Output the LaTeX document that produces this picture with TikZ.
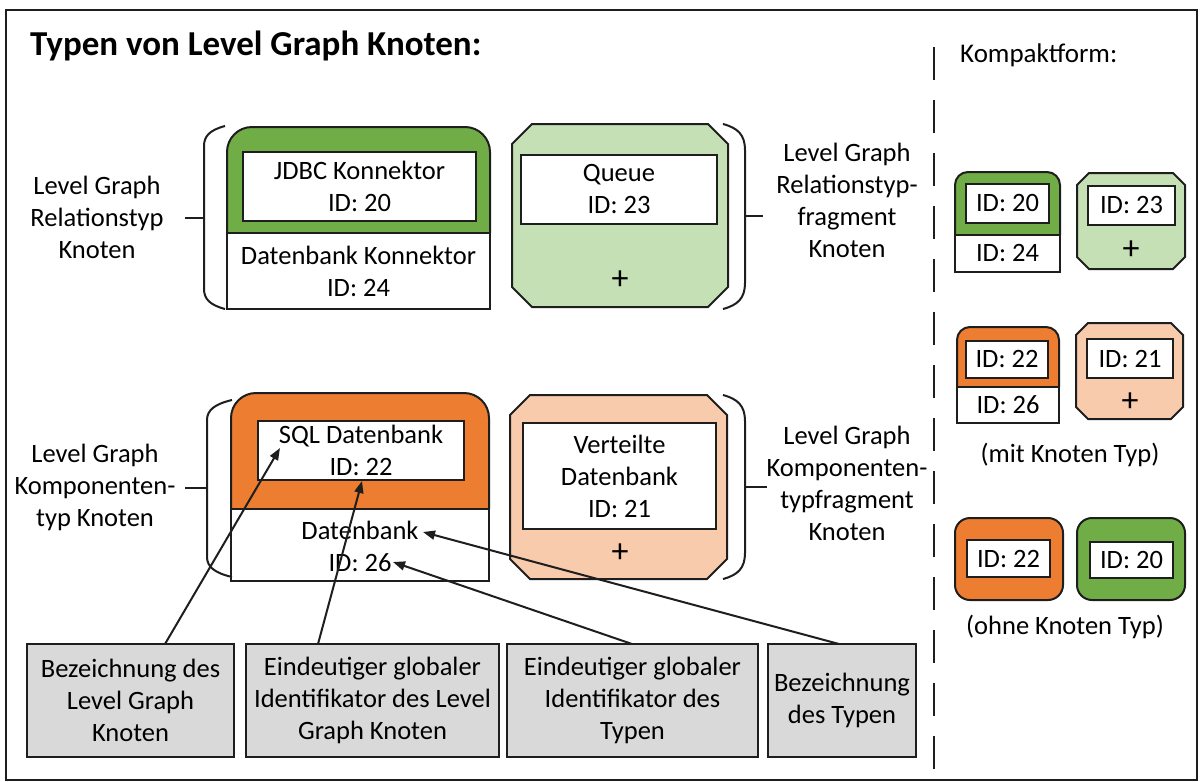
\documentclass[tikz,border=0pt]{standalone}
\usepackage{fontspec}
\setmainfont{Carlito}
\usetikzlibrary{arrows.meta}

\definecolor{gDark}{HTML}{70AD47}
\definecolor{gLight}{HTML}{C5E0B4}
\definecolor{oDark}{HTML}{ED7D31}
\definecolor{oLight}{HTML}{F8CBAD}
\definecolor{boxGray}{HTML}{D9D9D9}
\definecolor{ink}{HTML}{1E1E1E}

% octagonal fragment shape: fill, x1, y1, x2, y2, cut
\newcommand{\octshape}[6]{%
  \draw[shapeline, fill=#1] ({#2+#6},#3) -- ({#4-#6},#3) -- (#4,{#3+#6}) -- (#4,{#5-#6})
    -- ({#4-#6},#5) -- ({#2+#6},#5) -- (#2,{#5-#6}) -- (#2,{#3+#6}) -- cycle;}

% type shape with rounded coloured head and white foot: fill, x1, y1, x2, ydiv, y2, radius
\newcommand{\typeshape}[7]{%
  \fill[#1, rounded corners=#7] (#2,#3) rectangle (#4,#6);
  \fill[white] (#2,#5) rectangle (#4,#6);
  \draw[shapeline, rounded corners=#7] (#2,#5) -- (#2,#3) -- (#4,#3) -- (#4,#5);
  \draw[shapeline] (#2,#5) -- (#2,#6) -- (#4,#6) -- (#4,#5) -- cycle;}

\tikzset{
  every node/.style={font=\fontsize{26.5}{32}\selectfont},
  shapeline/.style={draw=ink, line width=2pt},
  idbox/.style={draw=ink, line width=2pt, fill=white, inner sep=0pt, align=center},
  txt/.style={align=center, inner sep=0pt},
  note/.style={draw=ink, line width=2pt, fill=boxGray, align=center, inner sep=0pt,
               minimum height=113pt},
  arr/.style={draw=ink, line width=2pt, -{Triangle[length=12pt,width=9pt]}},
  brace/.style={draw=ink, line width=2pt},
  plus/.style={align=center, inner sep=0pt, font=\fontsize{34}{34}\selectfont},
}

\begin{document}
\begin{tikzpicture}[x=1pt,y=-1pt]
\useasboundingbox (0,0) rectangle (1200,782);

% frame and separator
\draw[ink, line width=2.2pt] (6,10) rectangle (1197,780);
\draw[ink, line width=2.5pt, dash pattern=on 33pt off 20pt] (934,47) -- (934,782);

\node[anchor=west, inner sep=0pt, font=\fontsize{35}{40}\bfseries] (title) at (30,46)
  {Typen von Level Graph Knoten:};
\node[anchor=west, inner sep=0pt, font=\fontsize{27}{32}\selectfont] (kompakt) at (960,55)
  {Kompaktform:};

% ---- relation types ----
\typeshape{gDark}{227}{127}{490}{233}{309}{25pt}
\node[idbox, minimum width=233pt, minimum height=69pt] (jdbc) at (359.5,186.5)
  {JDBC Konnektor\\ID: 20};
\node[txt] (dbk) at (358.5,271) {Datenbank Konnektor\\ID: 24};

\octshape{gLight}{512}{124}{728}{307}{20}
\node[idbox, minimum width=196pt, minimum height=69pt] (queue) at (619,189.5)
  {Queue\\ID: 23};
\node[plus] (plusA) at (620,280) {+};

% ---- component types ----
\typeshape{oDark}{231}{393}{489}{509}{581}{25pt}
\node[idbox, minimum width=206pt, minimum height=59pt] (sql) at (361,450.5)
  {SQL Datenbank\\ID: 22};
\node[txt] (db) at (360,546) {Datenbank\\ID: 26};

\octshape{oLight}{510}{395}{727}{579}{20}
\node[idbox, minimum width=193pt, minimum height=106pt] (vdb) at (619.5,476)
  {Verteilte\\Datenbank\\ID: 21};
\node[plus] (plusB) at (620,553) {+};

% ---- brackets with their captions ----
\draw[brace] (225,126) .. controls (210,130) and (204,136) .. (204,146) -- (204,289)
  .. controls (204,299) and (210,305) .. (225,309);
\coordinate (brA) at (204,218);
\node[txt] (lblRel) at (97,217) {Level Graph\\Relationstyp\\Knoten};
\draw[brace] (brA) -- ++(-19,0);

\draw[brace] (723,124) .. controls (738,128) and (745,135) .. (745,150) -- (745,283)
  .. controls (745,298) and (738,305) .. (723,309);
\coordinate (brB) at (745,216);
\node[txt] (lblRelF) at (847,200) {Level Graph\\Relationstyp-\\fragment\\Knoten};
\draw[brace] (brB) -- ++(18,0);

\draw[brace] (232,400) .. controls (215,404) and (207,410) .. (207,420) -- (207,557)
  .. controls (207,567) and (215,573) .. (232,577);
\coordinate (brC) at (207,488);
\node[txt] (lblComp) at (95,487) {Level Graph\\Komponenten-\\typ Knoten};
\draw[brace] (brC) -- ++(-22,0);

\draw[brace] (723,395) .. controls (738,399) and (745,406) .. (745,421) -- (745,553)
  .. controls (745,568) and (738,575) .. (723,579);
\coordinate (brD) at (745,487);
\node[txt] (lblCompF) at (847,483) {Level Graph\\Komponenten-\\typfragment\\Knoten};
\draw[brace] (brD) -- ++(22,0);

% ---- compact forms ----
\typeshape{gDark}{955}{172}{1060}{235}{272}{13pt}
\node[idbox, minimum width=83pt, minimum height=39pt] (cA) at (1007.5,203.5) {ID: 20};
\node[txt] (cAt) at (1007.5,253.5) {ID: 24};

\octshape{gLight}{1077}{173}{1185}{269}{12}
\node[idbox, minimum width=87pt, minimum height=39pt] (cB) at (1131.5,205.5) {ID: 23};
\node[plus] (plusC) at (1131,250) {+};

\typeshape{oDark}{957}{327}{1059}{387}{423}{13pt}
\node[idbox, minimum width=82pt, minimum height=37pt] (cC) at (1007,359) {ID: 22};
\node[txt] (cCt) at (1008,405) {ID: 26};

\octshape{oLight}{1076}{323}{1183}{419}{12}
\node[idbox, minimum width=86pt, minimum height=39pt] (cD) at (1130,358.5) {ID: 21};
\node[plus] (plusD) at (1130,402) {+};

\node[txt] (mit) at (1070,455) {(mit Knoten Typ)};

\draw[shapeline, fill=oDark, rounded corners=15pt] (955,518) rectangle (1063,600);
\node[idbox, minimum width=83pt, minimum height=37pt] (cE) at (1008.5,558.5) {ID: 22};
\draw[shapeline, fill=gDark, rounded corners=15pt] (1077,518) rectangle (1185,600);
\node[idbox, minimum width=83pt, minimum height=36pt] (cF) at (1131.5,560) {ID: 20};

\node[txt] (ohne) at (1065,627) {(ohne Knoten Typ)};

% ---- explanation boxes ----
\node[note, minimum width=207pt] (b1) at (130.5,700.5)
  {Bezeichnung des\\Level Graph\\Knoten};
\node[note, minimum width=253pt] (b2) at (372.5,700.5)
  {Eindeutiger globaler\\Identifikator des Level\\Graph Knoten};
\node[note, minimum width=251pt] (b3) at (632.5,700.5)
  {Eindeutiger globaler\\Identifikator des\\Typen};
\node[note, minimum width=148pt] (b4) at (842,700.5)
  {Bezeichnung\\des Typen};

\coordinate (s1) at (165,644);
\coordinate (s2) at (318,644);
\coordinate (s3) at (632,644);
\coordinate (s4) at (839,644);
\coordinate (t1) at (280,448);
\coordinate (t2) at (362,481);
\coordinate (t3) at (393,562);
\coordinate (t4) at (423,532);

\draw[arr] (s1) -- (t1);
\draw[arr] (s2) -- (t2);
\draw[arr] (s3) -- (t3);
\draw[arr] (s4) -- (t4);
\end{tikzpicture}
\end{document}
